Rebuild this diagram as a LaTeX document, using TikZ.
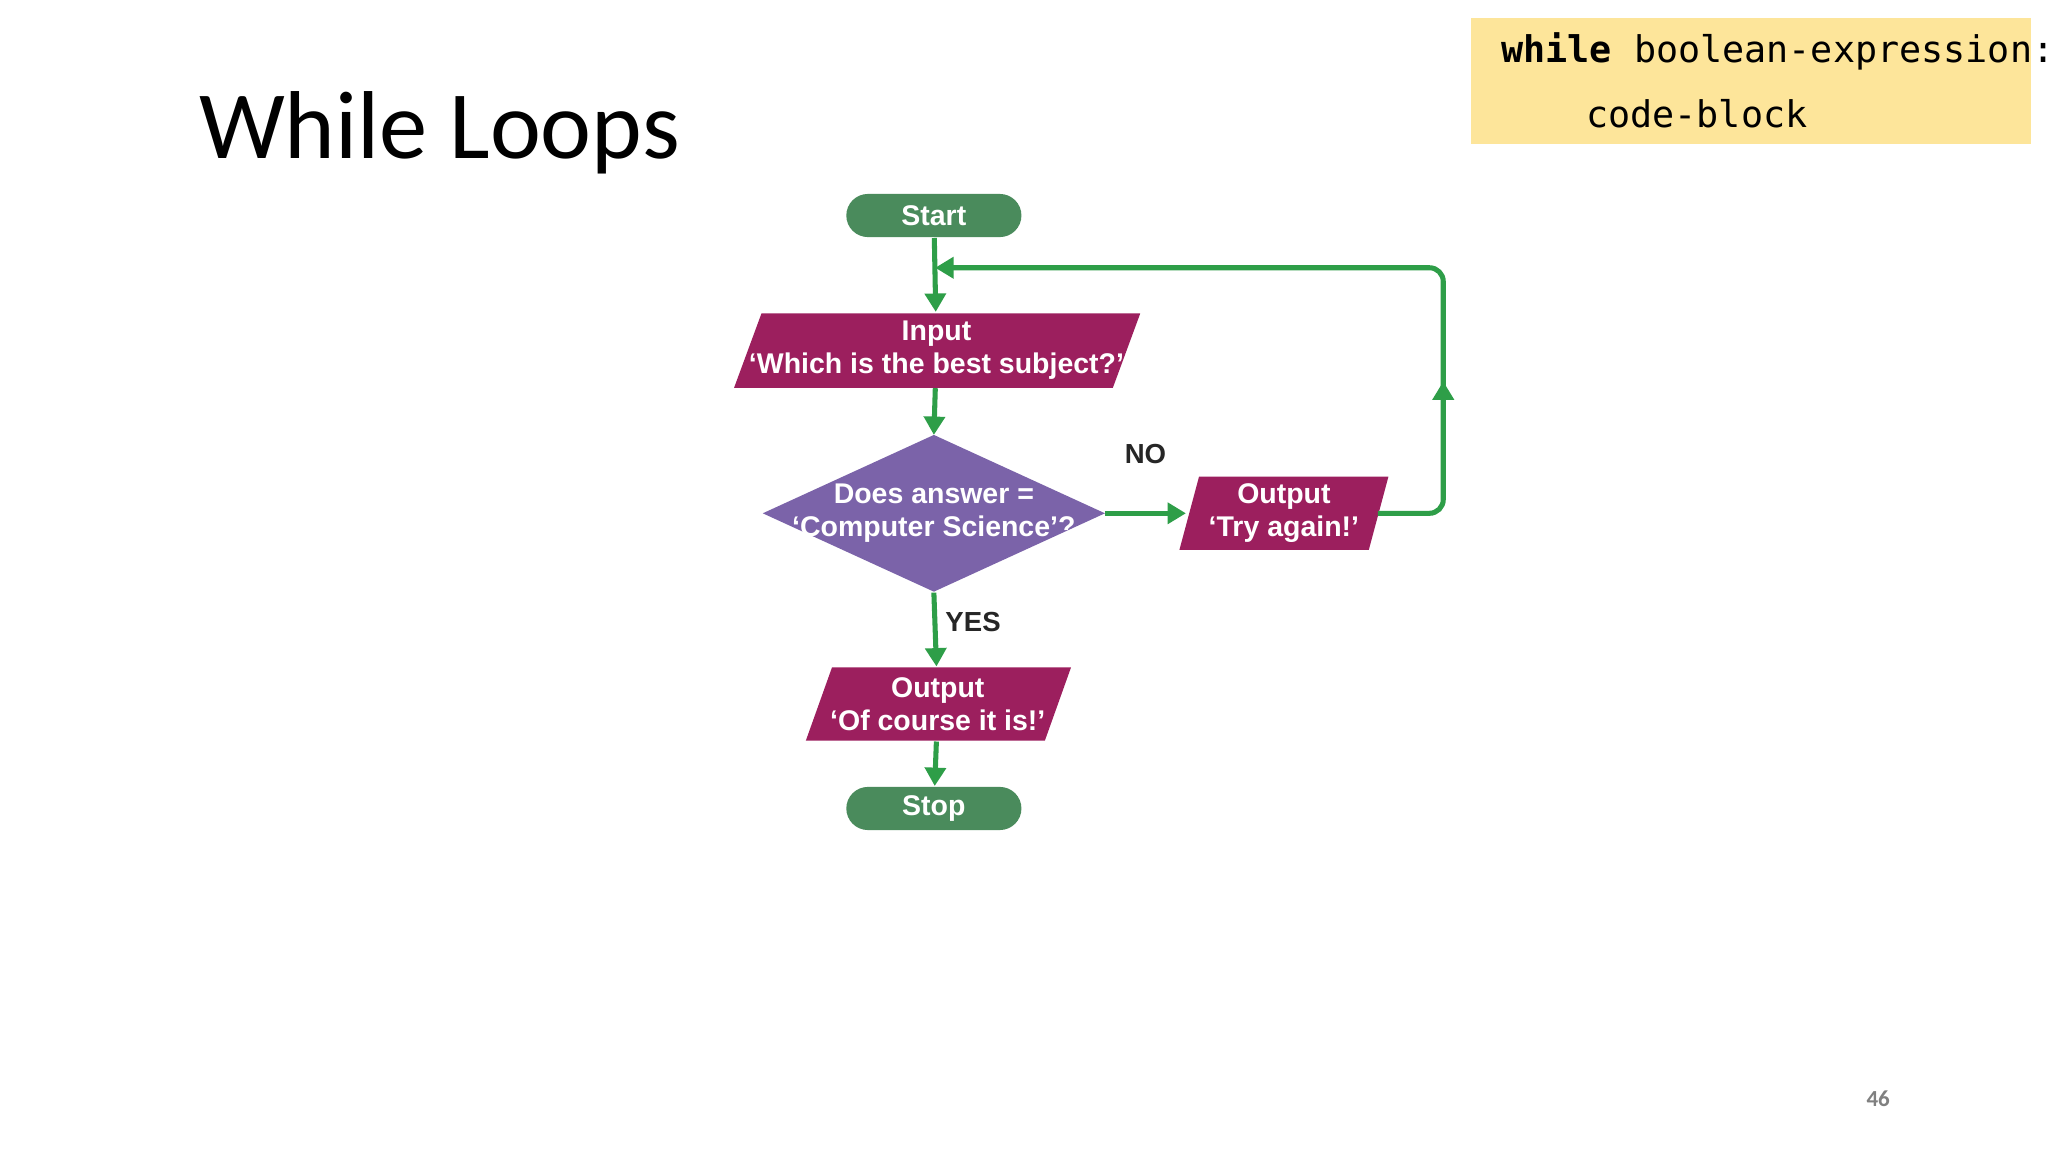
\documentclass[tikz,border=0pt]{standalone}
\usepackage{fontspec}
\setmainfont{Carlito}
\newfontfamily\fcfont{Liberation Sans}
\newfontfamily\codefont{DejaVu Sans Mono}
\usetikzlibrary{shapes.geometric,shapes.misc,arrows.meta}
\definecolor{term}{HTML}{4A8B5C}
\definecolor{io}{HTML}{9C1F5E}
\definecolor{dec}{HTML}{7B63A9}
\definecolor{arr}{HTML}{2E9E48}
\definecolor{codebg}{HTML}{FDE59A}
\tikzset{
 term/.style={rounded rectangle,fill=term,text=white,font=\fcfont\bfseries\fontsize{6.2}{7}\selectfont,minimum width=1.34cm,minimum height=0.33cm,inner sep=0pt},
 txt/.style={text=white,font=\fcfont\bfseries\fontsize{6.2}{7.2}\selectfont,align=center,inner sep=0pt},
 flow/.style={draw=arr,line width=1.1pt,-{Triangle[length=4pt,width=4.5pt]}},
}
\begin{document}
\begin{tikzpicture}[x=0.01cm,y=-0.01cm]
\useasboundingbox (0,0) rectangle (1568,882);
\fill[white] (0,0) rectangle (1568,882);
\node[anchor=west,font=\fontsize{21}{24}\selectfont] (title) at (140,102) {While Loops};
\fill[codebg] (1126,14) rectangle (1555,110);
\node[anchor=west,font=\codefont\fontsize{8}{9}\selectfont] (c1) at (1137,39) {\textbf{while} boolean-expression:};
\node[anchor=west,font=\codefont\fontsize{8}{9}\selectfont] (c2) at (1202,87) {code-block};
\node[text=gray,font=\bfseries\fontsize{5}{6}\selectfont] (pg) at (1438,841) {46};
% shapes
\fill[io] (583,240) -- (873,240) -- (852,297) -- (562,297) -- cycle;
\fill[io] (918,365) -- (1063,365) -- (1048,421) -- (903,421) -- cycle;
\fill[io] (637,511) -- (820,511) -- (800,567) -- (617,567) -- cycle;
\fill[dec] (584,393) -- (715,333) -- (846,393) -- (715,453) -- cycle;
\node[term] (start) at (715,165) {Start};
\node[term] (stop) at (715,619) {Stop};
\node[txt,minimum width=2.9cm,minimum height=0.57cm] (in) at (717,268) {Input\\‘Which is the best subject?’};
\node[txt,minimum width=2.62cm,minimum height=1.2cm] (d) at (715,393) {Does answer =\\‘Computer Science’?};
\node[txt,minimum width=1.5cm,minimum height=0.56cm] (try) at (983,393) {Output\\‘Try again!’};
\node[txt,minimum width=1.83cm,minimum height=0.56cm] (ok) at (718,539) {Output\\‘Of course it is!’};
\coordinate (tr) at (1055,393);
\coordinate (tl) at (908,393);
\coordinate (dr) at (846,393);
% connectors
\draw[flow] (start) -- (in);
\draw[flow] (in) -- (715,333);
\draw[flow] (d.south) -- (ok);
\draw[flow] (ok) -- (stop);
\draw[flow] (dr) -- node[above=7pt,font=\fcfont\bfseries\fontsize{6}{7}\selectfont,text=black!85] (no) {NO} (tl);
\node[font=\fcfont\bfseries\fontsize{6}{7}\selectfont,text=black!85] (yes) at (745,476) {YES};
\draw[draw=arr,line width=1.1pt,rounded corners=3pt] (tr) -- (1105,393) -- (1105,205) -- (725,205);
\draw[flow] (1105,310) -- (1105,292);
\draw[flow] (740,205) -- (716,205);
\end{tikzpicture}
\end{document}
